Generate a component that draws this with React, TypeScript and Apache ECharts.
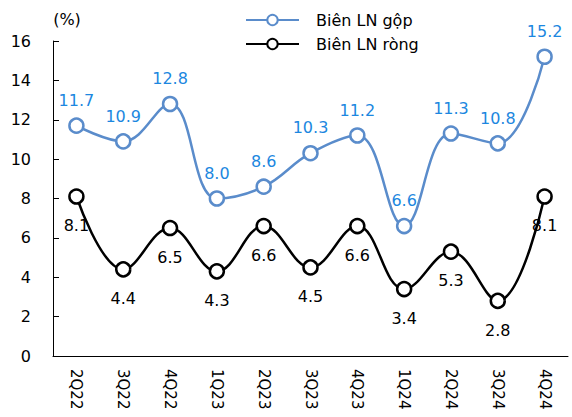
import React, { useEffect, useRef } from "react";
import * as echarts from "echarts";

const categories = ["2Q22", "3Q22", "4Q22", "1Q23", "2Q23", "3Q23", "4Q23", "1Q24", "2Q24", "3Q24", "4Q24"];
const grossMargin = [11.7, 10.9, 12.8, 8.0, 8.6, 10.3, 11.2, 6.6, 11.3, 10.8, 15.2];
const netMargin = [8.1, 4.4, 6.5, 4.3, 6.6, 4.5, 6.6, 3.4, 5.3, 2.8, 8.1];
const seriesNames = ["Biên LN gộp", "Biên LN ròng"];

const FONT = "DejaVu Sans";

export default function App() {
  const ref = useRef<HTMLDivElement>(null);
  useEffect(() => {
    if (!ref.current) return;
    const chart = echarts.init(ref.current, null, { renderer: "svg" });
    chart.setOption({
      animation: false,
      backgroundColor: "#ffffff",
      textStyle: { fontFamily: FONT },
      grid: { left: 53, right: 4, top: 41, bottom: 61, containLabel: false, outerBoundsMode: "none" },
      legend: {
        orient: "vertical",
        left: 240,
        top: 7,
        itemWidth: 53,
        itemHeight: 13,
        itemGap: 8,
        textStyle: { fontFamily: FONT, fontSize: 16, color: "#000", padding: [0, 0, 0, 12] },
        data: seriesNames,
      },
      xAxis: {
        type: "category",
        data: categories,
        boundaryGap: true,
        axisLine: { lineStyle: { color: "#000", width: 1 } },
        axisTick: { inside: true, length: 5, lineStyle: { color: "#000" } },
        axisLabel: {
          rotate: -90,
          color: "#000",
          fontSize: 15,
          fontFamily: FONT,
          margin: 13,
          overflow: "none",
          hideOverlap: false,
          interval: 0,
        },
      },
      yAxis: {
        type: "value",
        min: 0,
        max: 16,
        interval: 2,
        name: "(%)",
        nameLocation: "end",
        nameGap: 14,
        nameTextStyle: { color: "#000", fontSize: 16, fontFamily: FONT, align: "center", padding: [0, 0, 0, 28] },
        splitLine: { show: false },
        axisLine: { show: true, lineStyle: { color: "#000", width: 1 } },
        axisTick: { show: true, inside: true, length: 6, lineStyle: { color: "#000" } },
        axisLabel: { color: "#000", fontSize: 16, fontFamily: FONT, margin: 22 },
      },
      series: [
        {
          name: seriesNames[0],
          type: "line",
          data: grossMargin,
          smooth: 0.4,
          symbol: "circle",
          symbolSize: 14,
          lineStyle: { color: "#5A8CCB", width: 2.5 },
          itemStyle: { color: "#ffffff", borderColor: "#5A8CCB", borderWidth: 2.5 },
          label: {
            show: true,
            position: "top",
            distance: 9,
            color: "#1C87E0",
            fontSize: 16,
            fontFamily: FONT,
            formatter: (p: any) => p.value.toFixed(1),
          },
          z: 3,
        },
        {
          name: seriesNames[1],
          type: "line",
          data: netMargin,
          smooth: 0.4,
          symbol: "circle",
          symbolSize: 14,
          lineStyle: { color: "#000000", width: 2.5 },
          itemStyle: { color: "#ffffff", borderColor: "#000000", borderWidth: 2.5 },
          label: {
            show: true,
            position: "bottom",
            distance: 13,
            color: "#000",
            fontSize: 16,
            fontFamily: FONT,
            formatter: (p: any) => p.value.toFixed(1),
          },
          z: 2,
        },
      ],
    });
    return () => chart.dispose();
  }, []);
  return (
    <div
      ref={ref}
      style={{ position: "absolute", left: 0, top: 0, width: 572, height: 417 }}
    />
  );
}
